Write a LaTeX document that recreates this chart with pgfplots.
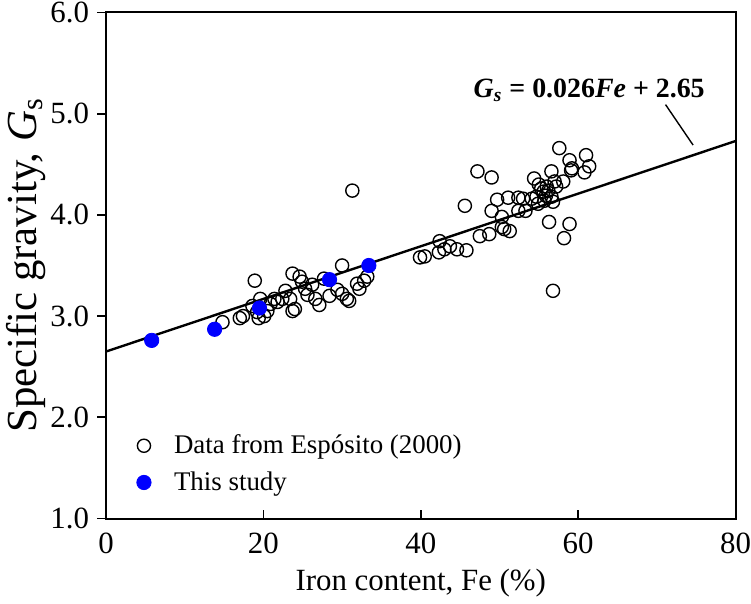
\documentclass[border=0pt]{standalone}
\usepackage{fontspec}
\setmainfont{Liberation Serif}
\usepackage{pgfplots}
\pgfplotsset{compat=1.18}
\definecolor{bluept}{RGB}{0,0,255}
\begin{document}
\begin{tikzpicture}
\begin{axis}[
  width=316pt, height=254pt, scale only axis,
  xmin=0, xmax=80, ymin=1, ymax=6,
  xtick={0,20,40,60,80}, ytick={1,2,3,4,5,6},
  xtick pos=bottom, ytick pos=left,
  tick align=inside,
  major tick length=4.5pt,
  y tick style={xshift=-4.5pt},
  tick style={black, line width=0.9pt},
  axis line style={line width=1pt},
  /pgf/number format/assume math mode=true,
  y tick label style={/pgf/number format/fixed, /pgf/number format/fixed zerofill, /pgf/number format/precision=1, xshift=-5pt, inner ysep=1pt},
  x tick label style={inner xsep=0pt, yshift=-3.5pt},
  ticklabel style={font=\fontsize{15.5}{18}\selectfont},
  xlabel={Iron content, Fe (\%)},
  ylabel={Specific gravity, \textit{G}\textsubscript{s}},
  xlabel style={font=\fontsize{15.5}{18}\selectfont, yshift=-1pt},
  ylabel style={font=\fontsize{21.5}{24}\selectfont, inner ysep=3pt, yshift=-4pt},
  legend style={at={(axis cs:3.1,1.91)}, anchor=north west, draw=none, fill=none,
    font=\fontsize{13.5}{16}\selectfont, row sep=3.5pt,
    /tikz/every odd column/.append style={column sep=9.5pt}},
  legend cell align=left,
]
\addplot[only marks, mark=o, mark size=3.3pt, black, line width=0.7pt] coordinates {
(14.8,2.94) (17.0,2.98) (17.4,3.00) (18.9,3.35) (18.6,3.10) (19.2,3.04)
(19.6,3.17) (19.4,2.98) (20.1,3.00) (20.5,3.05) (20.9,3.12) (21.4,3.17)
(21.8,3.14) (22.4,3.17) (22.8,3.25) (23.4,3.17) (23.7,3.42) (23.7,3.05)
(24.0,3.07) (24.6,3.39) (24.9,3.34) (25.3,3.27) (25.6,3.21) (26.2,3.31)
(26.6,3.17) (27.1,3.11) (27.7,3.37) (28.4,3.20) (29.4,3.26) (30.0,3.50)
(30.0,3.22) (30.6,3.17) (30.9,3.15) (31.3,4.24) (31.9,3.32) (32.2,3.27)
(32.8,3.35) (33.2,3.39)
(39.9,3.58) (40.5,3.59) (42.3,3.63) (42.4,3.74) (43.0,3.66) (43.7,3.69)
(44.6,3.66) (45.8,3.65) (45.6,4.09) (47.2,4.43) (49.0,4.37) (47.5,3.79)
(48.7,3.81) (49.0,4.04) (49.7,4.15) (50.3,3.98) (50.3,3.88) (50.6,3.86)
(51.3,3.84) (51.1,4.17) (52.4,4.17) (52.4,4.04)
(53.0,4.16) (53.3,4.04) (54.1,4.16) (54.4,4.36) (54.7,4.18) (54.9,4.11)
(55.3,4.26) (55.6,4.23) (55.7,4.14) (55.9,4.19) (56.2,4.24) (56.6,4.43)
(56.6,4.18) (56.8,4.13) (56.3,3.93) (56.8,3.25) (57.0,4.33) (57.2,4.28)
(57.6,4.66) (58.1,4.33) (58.2,3.77) (58.9,3.91) (58.9,4.54) (59.1,4.44)
(59.2,4.46) (60.8,4.42) (61.0,4.59) (61.4,4.48) (55.0,4.30) (56.0,4.28)
};
\addlegendentry{Data from Espósito (2000)}
\addplot[only marks, mark=*, mark size=3.6pt, bluept, mark options={draw=bluept, fill=bluept}] coordinates {
(5.8,2.76) (13.8,2.87) (19.5,3.08) (28.4,3.36) (33.4,3.50)
};
\addlegendentry{This study}
\addplot[black, line width=1.2pt, forget plot] coordinates {(0,2.65) (80,4.73)};
\node[anchor=base, font=\fontsize{14}{16}\selectfont\bfseries] at (axis cs:61.4,5.16)
  {\textit{G\textsubscript{s}} = 0.026\textit{Fe} + 2.65};
\draw[line width=0.7pt] (axis cs:71.1,5.09) -- (axis cs:74.6,4.69);
\end{axis}
\end{tikzpicture}
\end{document}
